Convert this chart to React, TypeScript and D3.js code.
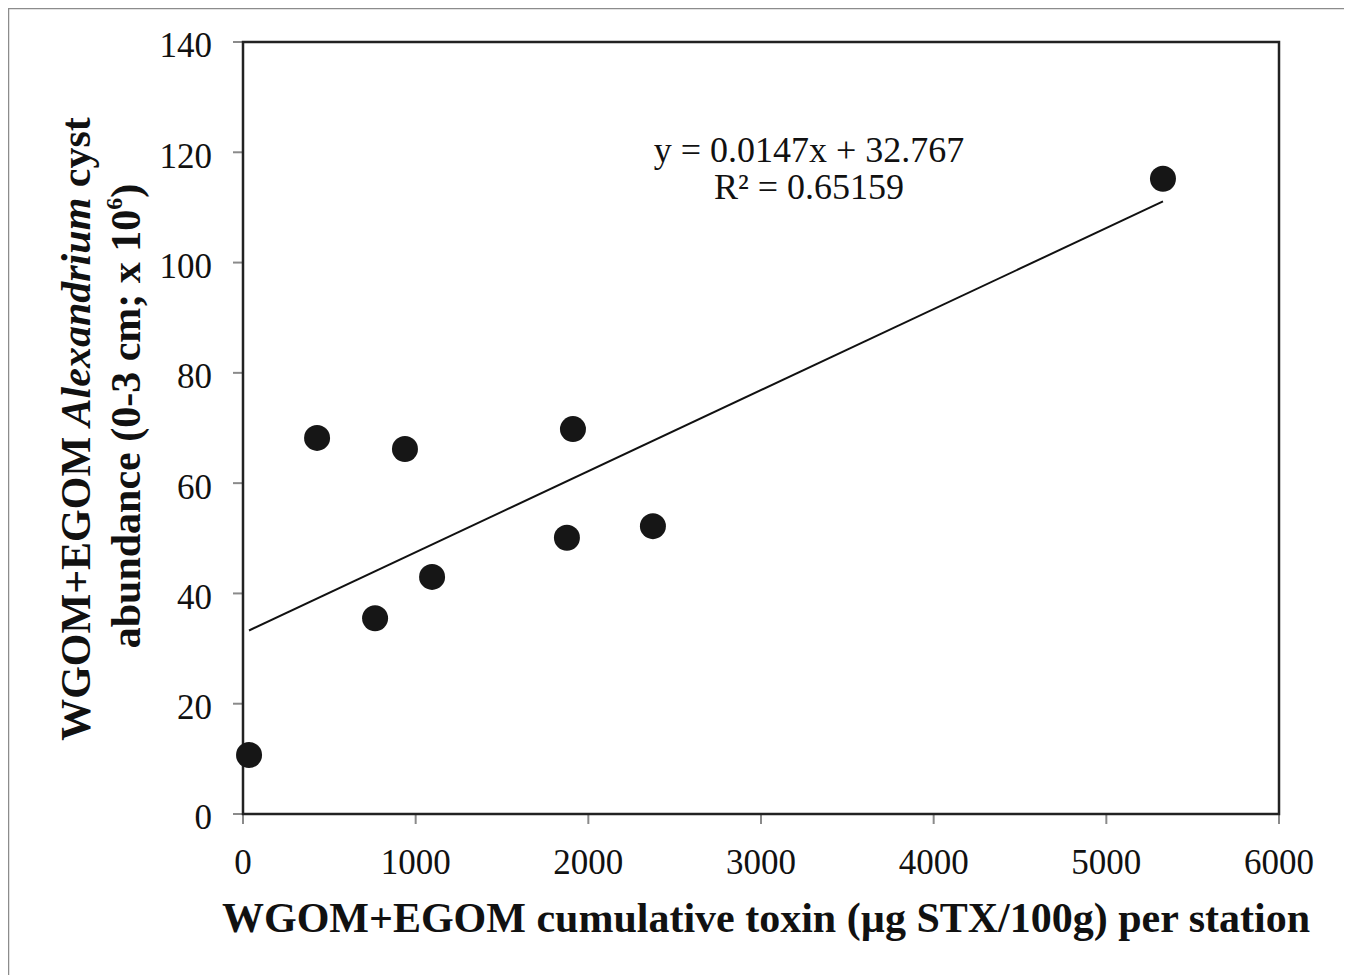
import React from 'react';
import * as d3 from 'd3';

// cumulative toxin per station (x) vs cyst abundance (y)
const toxin = [35, 429, 765, 938, 1095, 1876, 1911, 2374, 5328];
const cysts = [10.7, 68.2, 35.5, 66.2, 43.0, 50.1, 69.8, 52.2, 115.2];

const xTicks = [0, 1000, 2000, 3000, 4000, 5000, 6000];
const yTicks = [0, 20, 40, 60, 80, 100, 120, 140];

const slope = 0.0147;
const intercept = 32.767;
const eqLabel = 'y = 0.0147x + 32.767';
const r2Label = 'R² = 0.65159';

const W = 1336;
const H = 967;
const font = '"Liberation Serif", "Times New Roman", serif';

const App: React.FC = () => {
  const left = 235;
  const top = 34;
  const plotW = 1036;
  const plotH = 772;

  const x = d3.scaleLinear().domain([0, 6000]).range([left, left + plotW]);
  const y = d3.scaleLinear().domain([0, 140]).range([top + plotH, top]);

  const xMin = d3.min(toxin) as number;
  const xMax = d3.max(toxin) as number;
  const trend = d3
    .line<number>()
    .x((d) => x(d))
    .y((d) => y(slope * d + intercept));

  return (
    <svg width={W} height={H} style={{ display: 'block', overflow: 'visible' }} fontFamily={font}>
      {/* outer frame, bottom edge falls outside the window */}
      <rect x={0.5} y={0.5} width={1338} height={990} fill="#fff" stroke="#8c8c8c" strokeWidth={1.5} />

      {/* ticks */}
      {yTicks.map((t) => (
        <line key={'yt' + t} x1={left - 10} x2={left} y1={y(t)} y2={y(t)} stroke="#8a8a8a" strokeWidth={2} />
      ))}
      {xTicks.map((t) => (
        <line key={'xt' + t} x1={x(t)} x2={x(t)} y1={top + plotH} y2={top + plotH + 10} stroke="#8a8a8a" strokeWidth={2} />
      ))}

      {/* plot box */}
      <rect x={left} y={top} width={plotW} height={plotH} fill="none" stroke="#222" strokeWidth={2.5} />

      {/* tick labels */}
      {yTicks.map((t) => (
        <text key={'yl' + t} x={204} y={y(t)} dy="0.44em" textAnchor="end" fontSize={35} fill="#111">
          {t}
        </text>
      ))}
      {xTicks.map((t) => (
        <text key={'xl' + t} x={x(t)} y={866} textAnchor="middle" fontSize={35} fill="#111">
          {t}
        </text>
      ))}

      {/* trend line */}
      <path d={trend([xMin, xMax]) || ''} fill="none" stroke="#111" strokeWidth={2} />

      {/* points */}
      {toxin.map((t, i) => (
        <circle key={'p' + i} cx={x(t)} cy={y(cysts[i])} r={13} fill="#161616" />
      ))}

      {/* equation */}
      <text x={801} y={154} textAnchor="middle" fontSize={36} fill="#111">
        {eqLabel}
      </text>
      <text x={801} y={191} textAnchor="middle" fontSize={36} fill="#111">
        {r2Label}
      </text>

      {/* x axis title */}
      <text x={758} y={924} textAnchor="middle" fontSize={42} fontWeight="bold" fill="#111">
        WGOM+EGOM cumulative toxin (µg STX/100g) per station
      </text>

      {/* y axis title */}
      <text transform="translate(82,421) rotate(-90)" textAnchor="middle" fontSize={42} fontWeight="bold" fill="#111">
        WGOM+EGOM <tspan fontStyle="italic">Alexandrium</tspan> cyst
      </text>
      <text transform="translate(132,408) rotate(-90)" textAnchor="middle" fontSize={42} fontWeight="bold" fill="#111">
        abundance (0-3 cm; x 10
        <tspan fontSize={24} dy={-18}>6</tspan>
        <tspan dy={18}>)</tspan>
      </text>
    </svg>
  );
};

export default App;
